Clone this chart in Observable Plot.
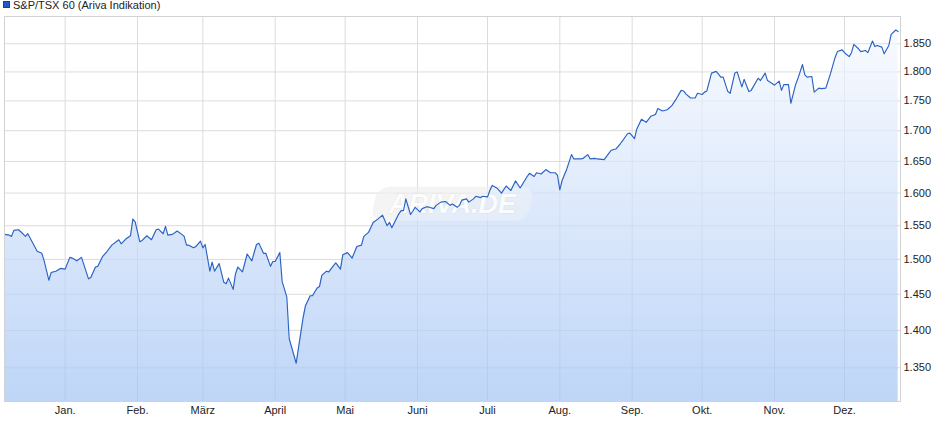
<!DOCTYPE html>
<html><head><meta charset="utf-8">
<script src="https://cdn.jsdelivr.net/npm/d3@7"></script>
<script src="https://cdn.jsdelivr.net/npm/@observablehq/plot@0.6"></script>
<style>
body{margin:0;background:#fff;font-family:"Liberation Sans",Arial,sans-serif;}
#wrap{position:relative;width:940px;height:435px;overflow:hidden;}
#legend{position:absolute;left:0;top:0;font-size:11px;color:#222;}
#legend .sw{position:absolute;left:3px;top:1px;width:5px;height:5px;background:#1e5bc6;border:1px solid #1a428f;}
#legend .lbl{position:absolute;left:13px;top:-1px;line-height:13px;white-space:nowrap;}
#chart{position:absolute;left:0;top:0;}
</style></head><body>
<div id="wrap">
  <div id="chart"></div>
  <div id="legend"><span class="sw"></span><span class="lbl">S&amp;P/TSX 60 (Ariva Indikation)</span></div>
</div>
<script>
const seriesName = "S&P/TSX 60 (Ariva Indikation)";
const dates = [
"2024-12-06","2024-12-08","2024-12-09","2024-12-10","2024-12-12","2024-12-13","2024-12-15","2024-12-16","2024-12-18","2024-12-20",
"2024-12-22","2024-12-23","2024-12-25","2024-12-26","2024-12-28","2024-12-30","2025-01-01","2025-01-03","2025-01-04","2025-01-06",
"2025-01-08","2025-01-11","2025-01-12","2025-01-14","2025-01-15","2025-01-17","2025-01-19","2025-01-21","2025-01-24","2025-01-25",
"2025-01-27","2025-01-29","2025-01-30","2025-01-31","2025-02-02","2025-02-03","2025-02-05","2025-02-07","2025-02-09","2025-02-10",
"2025-02-12","2025-02-13","2025-02-14","2025-02-16","2025-02-18","2025-02-20","2025-02-21","2025-02-22","2025-02-23","2025-02-25",
"2025-02-26","2025-02-28","2025-03-01","2025-03-02","2025-03-04","2025-03-05","2025-03-06","2025-03-08","2025-03-10","2025-03-11",
"2025-03-12","2025-03-14","2025-03-15","2025-03-16","2025-03-18","2025-03-20","2025-03-22","2025-03-24","2025-03-25","2025-03-27",
"2025-03-28","2025-03-30","2025-03-31","2025-04-01","2025-04-03","2025-04-04","2025-04-06","2025-04-07","2025-04-10","2025-04-13",
"2025-04-14","2025-04-16","2025-04-17","2025-04-19","2025-04-20","2025-04-21","2025-04-23","2025-04-24","2025-04-26","2025-04-27",
"2025-04-29","2025-04-30","2025-05-02","2025-05-04","2025-05-06","2025-05-08","2025-05-09","2025-05-11","2025-05-13","2025-05-15",
"2025-05-17","2025-05-19","2025-05-20","2025-05-21","2025-05-24","2025-05-25","2025-05-26","2025-05-27","2025-05-29","2025-05-30",
"2025-05-31","2025-06-02","2025-06-03","2025-06-05","2025-06-06","2025-06-08","2025-06-09","2025-06-11","2025-06-13","2025-06-15",
"2025-06-16","2025-06-18","2025-06-19","2025-06-20","2025-06-22","2025-06-23","2025-06-25","2025-06-26","2025-06-28","2025-06-29",
"2025-07-01","2025-07-02","2025-07-03","2025-07-05","2025-07-07","2025-07-09","2025-07-11","2025-07-13","2025-07-15","2025-07-18",
"2025-07-19","2025-07-21","2025-07-22","2025-07-24","2025-07-26","2025-07-28","2025-07-30","2025-07-31","2025-08-01","2025-08-02",
"2025-08-04","2025-08-06","2025-08-07","2025-08-10","2025-08-11","2025-08-13","2025-08-14","2025-08-16","2025-08-17","2025-08-20",
"2025-08-22","2025-08-23","2025-08-25","2025-08-27","2025-08-28","2025-08-30","2025-08-31","2025-09-02","2025-09-03","2025-09-05",
"2025-09-07","2025-09-09","2025-09-11","2025-09-12","2025-09-14","2025-09-16","2025-09-18","2025-09-20","2025-09-22","2025-09-23",
"2025-09-24","2025-09-26","2025-09-28","2025-09-29","2025-10-01","2025-10-02","2025-10-03","2025-10-05","2025-10-07","2025-10-09",
"2025-10-10","2025-10-12","2025-10-13","2025-10-15","2025-10-16","2025-10-18","2025-10-19","2025-10-21","2025-10-22","2025-10-25",
"2025-10-26","2025-10-28","2025-10-29","2025-10-31","2025-11-01","2025-11-03","2025-11-04","2025-11-05","2025-11-07","2025-11-08",
"2025-11-10","2025-11-11","2025-11-13","2025-11-14","2025-11-15","2025-11-17","2025-11-18","2025-11-20","2025-11-21","2025-11-23",
"2025-11-25","2025-11-27","2025-11-28","2025-11-30","2025-12-01","2025-12-03","2025-12-04","2025-12-05","2025-12-07","2025-12-08",
"2025-12-10","2025-12-11","2025-12-13","2025-12-14","2025-12-15","2025-12-17","2025-12-18","2025-12-20","2025-12-21","2025-12-23",
"2025-12-24"
];
const values = [
1537,1536,1534,1543,1544,1541,1534,1538,1525,1512,
1509,1498,1470,1481,1483,1487,1486,1503,1502,1498,
1503,1472,1474,1489,1490,1504,1512,1521,1529,1523,
1530,1535,1560,1556,1526,1528,1535,1529,1544,1545,
1538,1549,1536,1537,1542,1537,1534,1521,1521,1517,
1519,1527,1517,1522,1483,1496,1483,1494,1467,1465,
1473,1457,1479,1489,1482,1508,1498,1522,1524,1509,
1509,1490,1497,1497,1510,1468,1446,1389,1356,1418,
1434,1448,1448,1459,1461,1477,1483,1482,1491,1495,
1486,1507,1510,1502,1519,1521,1534,1540,1555,1560,
1566,1550,1555,1547,1568,1573,1573,1591,1567,1572,
1578,1571,1576,1579,1578,1576,1581,1586,1587,1581,
1583,1578,1581,1589,1591,1586,1591,1595,1593,1595,
1594,1604,1612,1608,1600,1611,1604,1619,1608,1626,
1631,1626,1632,1630,1637,1632,1632,1628,1605,1620,
1638,1661,1654,1654,1655,1661,1654,1655,1654,1653,
1663,1668,1670,1679,1684,1695,1696,1687,1703,1719,
1714,1724,1727,1737,1733,1735,1742,1754,1768,1767,
1762,1755,1755,1763,1761,1765,1767,1798,1801,1791,
1791,1766,1763,1798,1800,1774,1787,1766,1768,1789,
1785,1798,1785,1780,1777,1784,1768,1778,1778,1746,
1777,1788,1813,1795,1791,1792,1765,1772,1771,1772,
1797,1826,1836,1839,1834,1827,1834,1849,1841,1836,
1838,1834,1855,1845,1847,1844,1832,1847,1867,1875,
1872
];
const monthStarts = ["2025-01-01","2025-02-01","2025-03-01","2025-04-01","2025-05-01","2025-06-01","2025-07-01","2025-08-01","2025-09-01","2025-10-01","2025-11-01","2025-12-01"];
const monthLabels = ["Jan.","Feb.","März","April","Mai","Juni","Juli","Aug.","Sep.","Okt.","Nov.","Dez."];
const yTicks = [1350,1400,1450,1500,1550,1600,1650,1700,1750,1800,1850];
const xDomain = ["2024-12-06","2025-12-25"];
const yDomain = [1306.5, 1899.7];

const de = d3.formatLocale({decimal: ",", thousands: ".", grouping: [3], currency: ["", " €"]});
const fmt = de.format(",");
const data = dates.map((d, i) => ({date: new Date(d), value: values[i]}));
const ticksX = monthStarts.map(d => new Date(d));
const labelMap = new Map(ticksX.map((d, i) => [+d, monthLabels[i]]));
const font = '"Liberation Sans", Arial, Helvetica, sans-serif';

const chart = Plot.plot({
  width: 940, height: 435,
  marginLeft: 4, marginRight: 40, marginTop: 16, marginBottom: 34,
  style: {fontFamily: font, fontSize: "11px", color: "#222", background: "transparent", overflow: "visible"},
  x: {type: "utc", domain: xDomain.map(d => new Date(d)), label: null},
  y: {type: "log", domain: yDomain, label: null},
  marks: [
    Plot.gridX(ticksX, {stroke: "#dcdcdc", strokeOpacity: 1}),
    Plot.gridY(yTicks, {stroke: "#dcdcdc", strokeOpacity: 1}),
    Plot.areaY(data, {x: "date", y1: yDomain[0], y2: "value", fill: "url(#tsxGrad)", fillOpacity: 0.7}),
    Plot.text(["ARIVA.DE"], {frameAnchor: "middle", dy: -5, fontSize: 27, fontWeight: "bold", fontStyle: "italic", fill: "white", fillOpacity: 0.85, stroke: "#d0d0d0", strokeOpacity: 0.35, strokeWidth: 1}),
    Plot.lineY(data, {x: "date", y: "value", stroke: "#2a62c4", strokeWidth: 1.15}),
    Plot.frame({stroke: "#d2d2d2"}),
    Plot.axisX(ticksX, {tickSize: 0, tickPadding: 5, tickFormat: d => labelMap.get(+d), fill: "#222", fontSize: 11, label: null}),
    Plot.axisY(yTicks, {anchor: "right", tickSize: 0, tickPadding: 3, tickFormat: fmt, fill: "#222", fontSize: 11, label: null})
  ]
});

document.getElementById("chart").appendChild(chart);

const svg = d3.select(chart);
const defs = svg.insert("defs", ":first-child");
const grad = defs.append("linearGradient").attr("id", "tsxGrad").attr("x1", 0).attr("x2", 0).attr("y1", 0).attr("y2", 1);
grad.append("stop").attr("offset", "0%").attr("stop-color", "#f6f9ff");
grad.append("stop").attr("offset", "100%").attr("stop-color", "#a3c4f4");

// faint watermark box: a grey layer under the area and a white veil over it
const wmText = svg.selectAll("text").filter(function() { return this.textContent === "ARIVA.DE"; }).node();
const areaG = svg.select("g[aria-label='area']").node();
if (wmText) {
  const sb = chart.getBoundingClientRect();
  const tb = wmText.getBoundingClientRect();
  const bx = tb.left - sb.left, by = tb.top - sb.top, bw = tb.width, bh = tb.height;
  const textG = svg.select("g[aria-label='text']").node() || wmText.parentNode;
  const padX = 14, padY = 2;
  const sk = Math.tan(12 * Math.PI / 180);
  const cy = by + bh / 2;
  const addBox = (before, fill, op) => d3.select(before.parentNode).insert("rect", () => before)
    .attr("x", bx - padX).attr("y", by - padY)
    .attr("width", bw + 2 * padX).attr("height", bh + 2 * padY)
    .attr("rx", 12).attr("fill", fill).attr("fill-opacity", op)
    .attr("transform", `translate(${cy * sk},0) skewX(-12)`);
  if (areaG) addBox(areaG, "#e0e0e0", 0.5);
  addBox(textG, "#ffffff", 0.35);
}
</script>
</body></html>
